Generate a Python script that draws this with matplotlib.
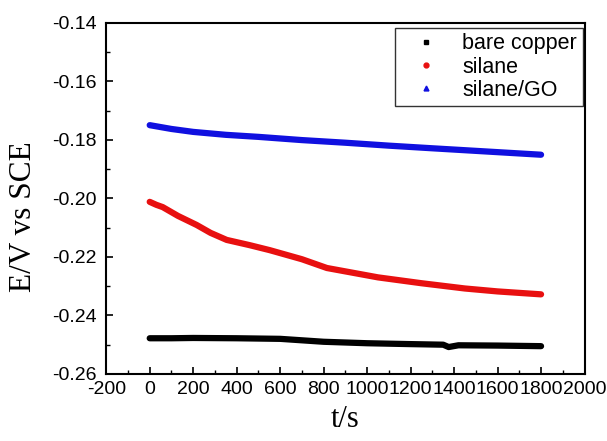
import matplotlib
matplotlib.use("Agg")
import matplotlib.pyplot as plt
from matplotlib.ticker import MultipleLocator
from matplotlib.lines import Line2D

t_bare = [0, 100, 200, 400, 600, 800, 1000, 1200, 1350, 1375, 1420, 1600, 1800]
e_bare = [-0.2478, -0.2478, -0.2477, -0.2478, -0.2480, -0.2490, -0.2495, -0.2498, -0.2500, -0.2508, -0.2502, -0.2503, -0.2505]

t_silane = [0, 30, 60, 130, 216, 280, 354, 460, 552, 700, 815, 1050, 1250, 1450, 1600, 1800]
e_silane = [-0.2012, -0.2022, -0.2030, -0.2060, -0.2091, -0.2118, -0.2142, -0.2160, -0.2177, -0.2208, -0.2238, -0.2270, -0.2290, -0.2308, -0.2318, -0.2328]

t_go = [0, 100, 200, 350, 500, 700, 900, 1100, 1300, 1550, 1800]
e_go = [-0.1750, -0.1763, -0.1773, -0.1783, -0.1790, -0.1801, -0.1810, -0.1820, -0.1829, -0.1840, -0.1851]

x_ticks = [-200, 0, 200, 400, 600, 800, 1000, 1200, 1400, 1600, 1800, 2000]
y_ticks = [-0.26, -0.24, -0.22, -0.20, -0.18, -0.16, -0.14]
labels = ['bare copper', 'silane', 'silane/GO']

fig = plt.figure(figsize=(6.07, 4.41), dpi=100)
ax = fig.add_axes([0.175, 0.152, 0.788, 0.7965])

ax.plot(t_bare, e_bare, color='black', lw=4.5, solid_capstyle='round')
ax.plot(t_silane, e_silane, color='#e81010', lw=4.5, solid_capstyle='round')
ax.plot(t_go, e_go, color='#1010e0', lw=4.5, solid_capstyle='round')

ax.set_xticks(x_ticks)
ax.set_xticklabels([str(v) for v in x_ticks], family='Liberation Sans')
ax.set_yticks(y_ticks)
ax.set_yticklabels(['%.2f' % v for v in y_ticks], family='Liberation Sans')
ax.xaxis.set_minor_locator(MultipleLocator(100))
ax.yaxis.set_minor_locator(MultipleLocator(0.01))
ax.set_xlim(-200, 2000)
ax.set_ylim(-0.26, -0.14)
ax.tick_params(which='both', direction='in', top=False, right=False)
ax.tick_params(which='major', length=5, width=1.2, labelsize=14)
ax.tick_params(axis='x', which='major', pad=5)
ax.tick_params(axis='y', which='major', pad=7)
ax.tick_params(which='minor', length=3, width=1)
for s in ax.spines.values():
    s.set_linewidth(1.5)

ax.set_xlabel('t/s', family='Liberation Serif', fontsize=22, labelpad=5)
ax.set_ylabel('E/V vs SCE', family='Liberation Serif', fontsize=22.5)
ax.yaxis.set_label_coords(-0.143, 0.447)

handles = [Line2D([], [], color='black', marker='s', ls='none', ms=3.5),
           Line2D([], [], color='#e81010', marker='o', ls='none', ms=3.5),
           Line2D([], [], color='#1010e0', marker='^', ls='none', ms=3.5)]
leg = ax.legend(handles, labels, loc='upper right',
                prop={'family': 'Liberation Sans', 'size': 15.5}, frameon=True, fancybox=False,
                borderpad=0.25, handletextpad=0.5, labelspacing=0.1, handlelength=2.4,
                borderaxespad=0.0, bbox_to_anchor=(0.996, 0.985))
leg.get_frame().set_edgecolor('black')
leg.get_frame().set_linewidth(1)

fig.savefig('out.png', dpi=100)
